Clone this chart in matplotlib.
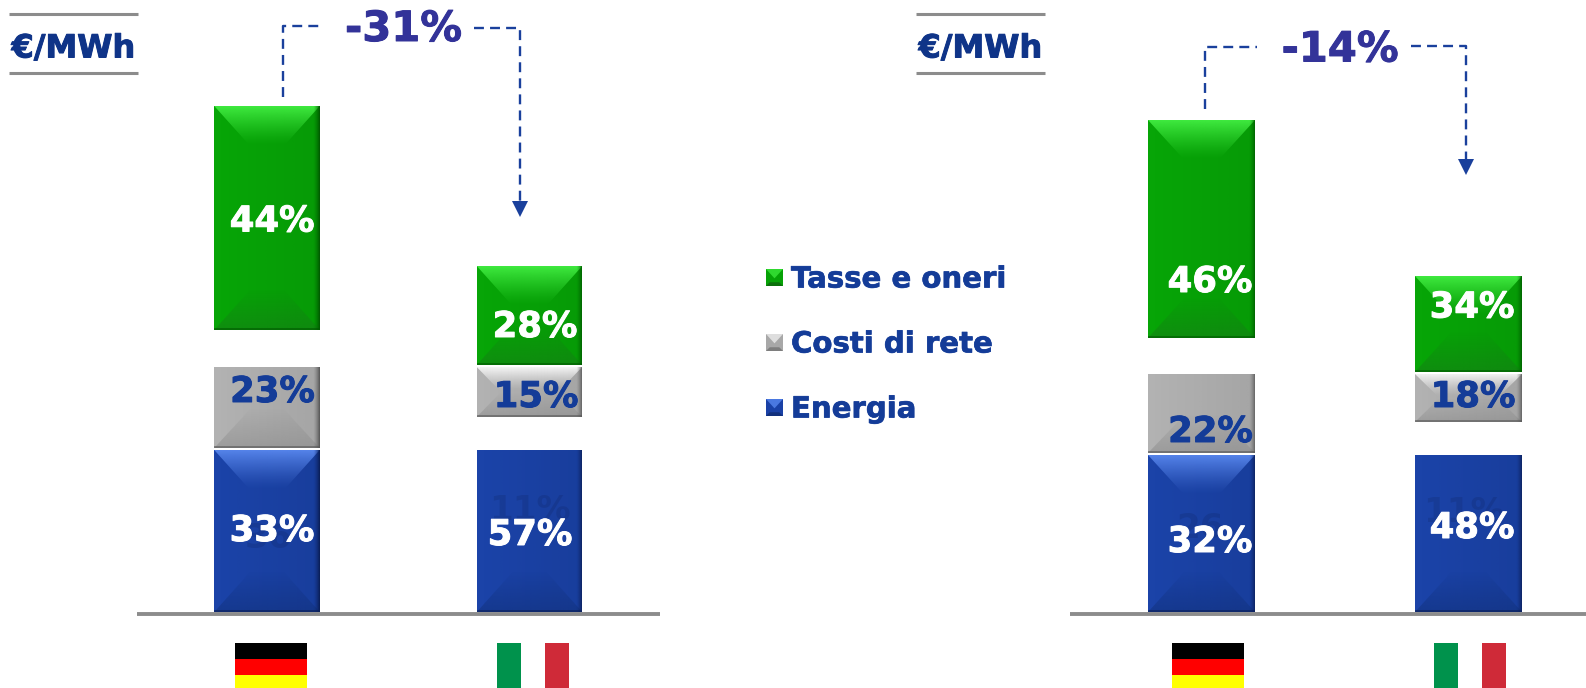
#!/usr/bin/env python3
"""Energy price breakdown Germany vs Italy: two panels of bevelled stacked bars."""

import numpy as np
import matplotlib
matplotlib.use('Agg')
import matplotlib.pyplot as plt
import matplotlib.patheffects as pe
from matplotlib.colors import to_rgb
from matplotlib.patches import Polygon, Rectangle

W, H = 1586, 688
BASE_Y = 612

countries = ['Germania', 'Italia']
legend_labels = ['Tasse e oneri', 'Costi di rete', 'Energia']

# segment heights (bars have no printed scale)
left_energia = [162, 162]
left_rete = [81, 50]
left_tasse = [224, 99]
left_gap_rete = [2, 33]
left_gap_tasse = [37, 2]
left_energia_pct = ['33%', '57%']
left_rete_pct = ['23%', '15%']
left_tasse_pct = ['44%', '28%']
left_delta = '-31%'

right_energia = [157, 157]
right_rete = [79, 48]
right_tasse = [218, 96]
right_gap_rete = [2, 33]
right_gap_tasse = [36, 2]
right_energia_pct = ['32%', '48%']
right_rete_pct = ['22%', '18%']
right_tasse_pct = ['46%', '34%']
right_delta = '-14%'

unit_label = '€/MWh'

BLUE = '#1b43a8'
GREEN = '#07a507'
GREY = '#b2b2b2'
TEXT_BLUE = '#143c98'
UNIT_BLUE = '#0f3488'
DELTA_BLUE = '#333399'
LINE_GREY = '#8c8c8c'
ARROW_BLUE = '#1a409c'

plt.rcParams['font.family'] = ['DejaVu Sans']


def heavy(color, width=0.7):
    # verdana bold is a bit heavier than dejavu bold
    return [pe.withStroke(linewidth=width, foreground=color)]


def gradient(ax, extent, rgb, alphas, clip, vertical=True):
    """Paint a colour with varying alpha over extent, clipped to a polygon."""
    img = np.zeros((len(alphas), 1, 4)) if vertical else np.zeros((1, len(alphas), 4))
    img[..., :3] = rgb
    img[..., 3] = np.reshape(alphas, img.shape[:2])
    im = ax.imshow(img, extent=extent, origin='upper', aspect='auto',
                   interpolation='bilinear', zorder=3)
    patch = Polygon(clip, closed=True, transform=ax.transData, fill=False, lw=0)
    ax.add_patch(patch)
    im.set_clip_path(patch)


def bevel(ax, x0, x1, y0, y1, top_rgb, bottom_rgb, edge_rgb, top=True):
    """Overlay pyramid style highlights on a bar, y0 bottom and y1 top."""
    w = x1 - x0
    h = y1 - y0
    depth = min(40, h * 0.48)
    inset = w * 0.34 if h > 60 else w * 0.22
    box = [(x0, y0), (x1, y0), (x1, y1), (x0, y1)]
    # body is a little darker to the right
    gradient(ax, (x0, x1, y0, y1), edge_rgb, np.linspace(0, 0.14, 12), box, vertical=False)
    if top:
        clip = [(x0, y1), (x1, y1), (x1 - inset, y1 - depth), (x0 + inset, y1 - depth)]
        gradient(ax, (x0, x1, y1 - depth, y1), top_rgb,
                 np.linspace(1, 0, 24) ** 1.3, clip)
    clip = [(x0, y0), (x1, y0), (x1 - inset, y0 + depth), (x0 + inset, y0 + depth)]
    gradient(ax, (x0, x1, y0, y0 + depth), bottom_rgb,
             np.linspace(0.03, 0.6, 24), clip)
    # dark right hand side and thin shaded rim
    e = w * 0.06
    gradient(ax, (x1 - e, x1, y0, y1), edge_rgb, np.linspace(0, 1, 12) ** 1.5,
             [(x1 - e, y0), (x1, y0), (x1, y1), (x1 - e, y1)], vertical=False)
    ax.bar((x0 + x1) / 2, 2, width=w, bottom=y0, color=edge_rgb, alpha=0.6, lw=0, zorder=4)


def draw_panel(px_left, px_right, centers_px, width_px, energia, rete, tasse, gap_rete, gap_tasse):
    pax = fig.add_axes([px_left / W, 1 - BASE_Y / H, (px_right - px_left) / W, BASE_Y / H])
    step = centers_px[1] - centers_px[0]
    xlim = ((px_left - centers_px[0]) / step, (px_right - centers_px[0]) / step)
    x = np.arange(len(countries))
    width = width_px / step
    energia, rete, tasse = map(np.array, (energia, rete, tasse))
    rete_bottom = energia + np.array(gap_rete)
    tasse_bottom = rete_bottom + rete + np.array(gap_tasse)

    bars_e = pax.bar(x, energia, width=width, color=BLUE, lw=0, zorder=2)
    bars_r = pax.bar(x, rete, width=width, bottom=rete_bottom, color=GREY, lw=0, zorder=2)
    bars_t = pax.bar(x, tasse, width=width, bottom=tasse_bottom, color=GREEN, lw=0, zorder=2)

    for i, b in enumerate(bars_e):
        bevel(pax, b.get_x(), b.get_x() + b.get_width(), b.get_y(), b.get_y() + b.get_height(),
              to_rgb('#5482e8'), to_rgb('#12327f'), to_rgb('#0b1f58'), top=(i == 0))
    for i, b in enumerate(bars_r):
        bevel(pax, b.get_x(), b.get_x() + b.get_width(), b.get_y(), b.get_y() + b.get_height(),
              to_rgb('#f4f4f4'), to_rgb('#8e8e8e'), to_rgb('#585858'), top=(i == 1))
    for b in bars_t:
        bevel(pax, b.get_x(), b.get_x() + b.get_width(), b.get_y(), b.get_y() + b.get_height(),
              to_rgb('#3ee83e'), to_rgb('#157f15'), to_rgb('#005a00'))

    pax.set_xlim(xlim)
    pax.set_ylim(0, BASE_Y)
    pax.axis('off')
    return pax


def pct_labels(ax, xs, ys, labels, color):
    for px, py, s in zip(xs, ys, labels):
        ax.text(px, py + 2, s, color=color, fontsize=25.5, fontweight='bold',
                ha='center', va='center', zorder=10, path_effects=heavy(color))


def bevel_square(ax, x0, y0, size, body, top_c, bottom_c):
    ax.add_patch(Rectangle((x0, y0), size, size, color=body, lw=0))
    ax.add_patch(Polygon([(x0, y0), (x0 + size, y0), (x0 + size / 2, y0 + size * 0.55)],
                         color=top_c, lw=0))
    ax.add_patch(Polygon([(x0, y0 + size), (x0 + size, y0 + size),
                          (x0 + size * 0.78, y0 + size * 0.78), (x0 + size * 0.22, y0 + size * 0.78)],
                         color=bottom_c, lw=0))


def german_flag(ax, x0):
    for i, c in enumerate(['#000000', '#ff0000', '#ffff00']):
        ax.add_patch(Rectangle((x0, 643 + i * 16), 72, 16, color=c, lw=0))


def italian_flag(ax, x0):
    for i, c in enumerate(['#00924c', '#ffffff', '#cf2a38']):
        ax.add_patch(Rectangle((x0 + i * 24, 643), 24, 50, color=c, lw=0))


def unit_box(ax, x0, x1):
    for y in (13.5, 72.5):
        ax.plot([x0, x1], [y, y], color=LINE_GREY, lw=2.2, solid_capstyle='butt')
    ax.text((x0 + x1) / 2, 49, unit_label, color=UNIT_BLUE, fontsize=23,
            fontweight='bold', ha='center', va='center', path_effects=heavy(UNIT_BLUE))


def delta_arrow(ax, label, x_start, y_start, x_a, y_a, x_b, y_b, x_end, y_end, text_xy):
    dash = dict(color=ARROW_BLUE, lw=1.7, dashes=(4.2, 2.6), dash_capstyle='butt')
    ax.plot([x_start, x_start, x_a], [y_start, y_a, y_a], **dash)
    ax.plot([x_b, x_end, x_end], [y_b, y_b, y_end], **dash)
    ax.add_patch(Polygon([(x_end - 8, y_end), (x_end + 8, y_end), (x_end, y_end + 16)],
                         color=ARROW_BLUE, lw=0))
    ax.text(text_xy[0], text_xy[1], label, color=DELTA_BLUE, fontsize=30,
            fontweight='bold', ha='center', va='center', path_effects=heavy(DELTA_BLUE))


fig = plt.figure(figsize=(W / 100, H / 100), dpi=100)

draw_panel(137, 660, [267, 529.5], 105.5, left_energia, left_rete, left_tasse,
           left_gap_rete, left_gap_tasse)
draw_panel(1069.5, 1586, [1201.5, 1468.5], 107, right_energia, right_rete, right_tasse,
           right_gap_rete, right_gap_tasse)

# overlay in pixel coordinates for the annotations
ov = fig.add_axes([0, 0, 1, 1], facecolor='none')
ov.set_xlim(0, W)
ov.set_ylim(H, 0)
ov.axis('off')

# baselines
ov.plot([137, 660], [613.5, 613.5], color=LINE_GREY, lw=2.8, solid_capstyle='butt')
ov.plot([1069.5, 1586], [613.5, 613.5], color=LINE_GREY, lw=2.8, solid_capstyle='butt')

# faint leftovers visible under the blue bar labels
for gx, gy, s in [(268, 539, '36'), (530, 511, '11%'), (1200, 528, '26'), (1464, 513, '11%')]:
    ov.text(gx, gy, s, color='#0b1f58', fontsize=24.5, fontweight='bold', ha='center',
            va='center', alpha=0.2, zorder=8)

pct_labels(ov, [272, 535], [219.5, 325], left_tasse_pct, 'white')
pct_labels(ov, [272.5, 536], [390, 395], left_rete_pct, TEXT_BLUE)
pct_labels(ov, [272, 530], [529, 533], left_energia_pct, 'white')
pct_labels(ov, [1210, 1472], [280, 305.5], right_tasse_pct, 'white')
pct_labels(ov, [1210.5, 1473], [430, 395], right_rete_pct, TEXT_BLUE)
pct_labels(ov, [1210, 1472], [540, 526], right_energia_pct, 'white')

unit_box(ov, 9, 138)
unit_box(ov, 916, 1045)

delta_arrow(ov, left_delta, 283, 97, 319, 25.5, 473.5, 28.3, 520, 201, (403.5, 29))
delta_arrow(ov, right_delta, 1205, 109, 1257, 46.5, 1411, 45.5, 1466, 159, (1340, 49.5))

# legend
legend_y = [269, 334, 399]
legend_styles = [('#06a206', '#2fd82f', '#0b6f0b'), ('#a8a8a8', '#dedede', '#7e7e7e'),
                 ('#1a41a6', '#4a78e0', '#12307c')]
for y, label, st in zip(legend_y, legend_labels, legend_styles):
    bevel_square(ov, 766, y, 17, *st)
    ov.text(791, y + 10.5, label, color=TEXT_BLUE, fontsize=21, fontweight='bold',
            ha='left', va='center', path_effects=heavy(TEXT_BLUE, 0.5))

german_flag(ov, 235)
italian_flag(ov, 497)
german_flag(ov, 1172)
italian_flag(ov, 1434)

fig.savefig('out.png', dpi=100)
